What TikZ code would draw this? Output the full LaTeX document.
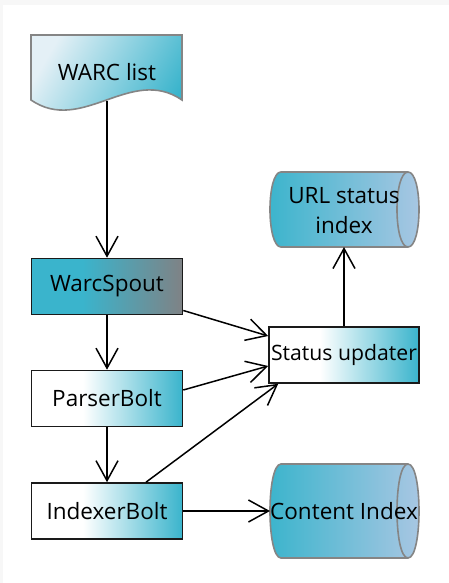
\documentclass[tikz,border=0pt]{standalone}
\usepackage{fontspec}
\setmainfont{Open Sans}
\usetikzlibrary{arrows.meta,calc,backgrounds}

\definecolor{flowteal}{HTML}{3AB4CC}
\definecolor{spoutgray}{HTML}{7F8285}
\definecolor{docpale}{HTML}{E4F0F6}
\definecolor{storeblue}{HTML}{AAC7E3}
\definecolor{shapegray}{HTML}{858585}
\definecolor{boxline}{HTML}{1A1A1A}
\definecolor{framegray}{HTML}{F7F7F7}

% white on the left, fading into teal towards the right edge
\pgfdeclarehorizontalshading{boltshade}{100bp}{color(0bp)=(white); color(42bp)=(white); color(75bp)=(flowteal); color(100bp)=(flowteal)}
% teal on the left, turning grey towards the right edge
\pgfdeclarehorizontalshading{spoutshade}{100bp}{color(0bp)=(flowteal); color(42bp)=(flowteal); color(75bp)=(spoutgray); color(100bp)=(spoutgray)}

% horizontal storage cylinder: centre x, centre y, half height
\newcommand\storecyl[3]{%
  \filldraw[outline,left color=flowteal,right color=storeblue]
    ({#1-63.5},{#2-#3}) -- ({#1+63.5},{#2-#3})
    .. controls ({#1+78.17},{#2-#3}) and ({#1+78.17},{#2+#3}) .. ({#1+63.5},{#2+#3})
    -- ({#1-63.5},{#2+#3})
    .. controls ({#1-78.17},{#2+#3}) and ({#1-78.17},{#2-#3}) .. ({#1-63.5},{#2-#3}) -- cycle;
  \draw[outline]
    ({#1+63.5},{#2-#3}) .. controls ({#1+48.83},{#2-#3}) and ({#1+48.83},{#2+#3}) .. ({#1+63.5},{#2+#3});
}

\begin{document}
\begin{tikzpicture}[x=1pt,y=-1pt,
  font=\fontsize{22.5}{30}\selectfont,
  outline/.style={draw=shapegray,line width=1.6pt},
  box/.style={draw=boxline,line width=1.6pt,minimum width=151pt,minimum height=56pt,inner sep=0pt},
  spoutbox/.style={box,shading=spoutshade},
  boltbox/.style={box,shading=boltshade},
  store/.style={inner sep=0pt,align=center},
  flow/.style={line width=1.5pt,-{Straight Barb[length=20pt,width=22pt]}}]

\useasboundingbox (0,0) rectangle (449,583);

% processing components
\node[spoutbox] (spout) at (107,286.5) {WarcSpout};
\node[boltbox] (parser) at (107,398.5) {ParserBolt};
\node[boltbox] (indexer) at (107,511) {IndexerBolt};
\node[boltbox,minimum width=150pt,font=\fontsize{21.2}{30}\selectfont] (status) at (344,355) {\makebox[0pt]{Status updater}};

% input document and storage texts
\node (warc) at (107,72) {WARC list};
\node[store] (url) at (344,211) {URL status\\index};
\node[store] (content) at (344,511) {Content Index};

\begin{scope}[on background layer]
  \fill[framegray] (0,0) rectangle (449,583);
  \fill[white] (3,5) rectangle (449,583);
  % WARC list document shape
  \filldraw[outline,left color=docpale,right color=flowteal,shading angle=60]
    (31,35) -- (182,35) -- (182,100)
    .. controls (131,65) and (82,135) .. (31,100) -- cycle;
  \storecyl{344.5}{209.5}{37.5}
  \storecyl{344.5}{511}{47}
\end{scope}

\coordinate (warcfoot) at (107,101);
\coordinate (urlfoot) at (344,247);
\coordinate (contentleft) at (270,511);

\draw[flow] (warcfoot) -- (spout.north);
\draw[flow] (spout.south) -- (parser.north);
\draw[flow] (parser.south) -- (indexer.north);
\draw[flow] (status.north) -- (urlfoot);
\draw[flow] ([yshift=-24pt]spout.east) -- ([yshift=19pt]status.west);
\draw[flow] ([yshift=8.5pt]parser.east) -- ([yshift=-11pt]status.west);
\draw[flow] ([xshift=39pt]indexer.north) -- ([xshift=10pt]status.south west);
\draw[flow] (indexer.east) -- (contentleft);
\end{tikzpicture}
\end{document}
